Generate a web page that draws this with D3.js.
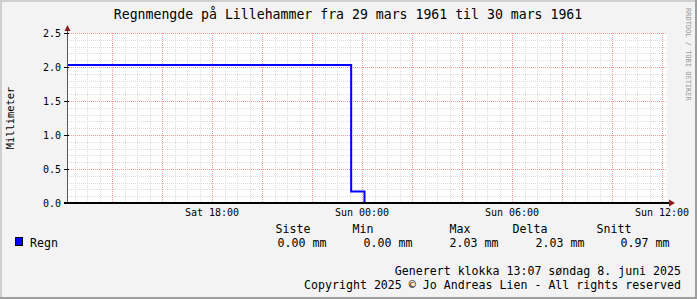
<!DOCTYPE html>
<html>
<head>
<meta charset="utf-8">
<script src="https://cdn.jsdelivr.net/npm/d3@7"></script>
<style>
  body { margin: 0; background: #fff; }
  svg { display: block; }
  text { font-family: "DejaVu Sans Mono", monospace; fill: #000; }
</style>
</head>
<body>
<div id="chart"></div>
<script>

// data (UTC times, step values)
const stepTimes = ["1961-03-25T12:12:00Z", "1961-03-25T23:34:00Z", "1961-03-26T00:06:00Z", "1961-03-26T12:12:00Z"];
const stepValues = [2.03, 0.17, 0.00, 0.00];

const legendHeaders = ["Siste", "Min", "Max", "Delta", "Snitt"];
const legendValues = ["0.00 mm", "0.00 mm", "2.03 mm", "2.03 mm", "0.97 mm"];
const seriesName = "Regn";

const yTicks = [0, 0.5, 1.0, 1.5, 2.0, 2.5];

const titleText = "Regnmengde på Lillehammer fra 29 mars 1961 til 30 mars 1961";
const footerLines = ["Generert klokka 13:07 søndag 8. juni 2025",
    "Copyright 2025 © Jo Andreas Lien - All rights reserved"];

const W = 697, H = 299;
const margin = {top: 33, left: 67, width: 600, height: 170};

const svg = d3.select("#chart").append("svg")
    .attr("width", W)
    .attr("height", H);

// canvas + 3d-ish border
svg.append("rect").attr("width", W).attr("height", H).attr("fill", "#f3f3f3");
svg.append("path").attr("d", `M0,${H} V0 H${W}`).attr("fill", "none")
    .attr("stroke", "#cfcfcf").attr("stroke-width", 4);
svg.append("path").attr("d", `M0,${H} H${W} V0`).attr("fill", "none")
    .attr("stroke", "#9e9e9e").attr("stroke-width", 4);

const times = stepTimes.map(d3.isoParse);

const x = d3.scaleUtc()
    .domain([times[0], times[times.length - 1]])
    .range([margin.left, margin.left + margin.width]);

const y = d3.scaleLinear()
    .domain([0, 2.5])
    .range([margin.top + margin.height, margin.top]);

// plot background
svg.append("rect")
    .attr("x", margin.left).attr("y", margin.top)
    .attr("width", margin.width).attr("height", margin.height)
    .attr("fill", "#fff");

const grid = svg.append("g");

// minor grid
const minorX = d3.utcMinute.every(30).range(x.domain()[0], x.domain()[1]);
grid.selectAll(".mx").data(minorX).join("line")
    .attr("x1", d => Math.round(x(d)) + 0.5).attr("x2", d => Math.round(x(d)) + 0.5)
    .attr("y1", margin.top).attr("y2", margin.top + margin.height)
    .attr("stroke", "#dcdcdc").attr("stroke-dasharray", "1,1");
const minorY = d3.range(1, 25).map(i => i / 10);
grid.selectAll(".my").data(minorY).join("line")
    .attr("x1", margin.left).attr("x2", margin.left + margin.width)
    .attr("y1", d => Math.round(y(d)) + 0.5).attr("y2", d => Math.round(y(d)) + 0.5)
    .attr("stroke", "#dcdcdc").attr("stroke-dasharray", "1,1");

// major grid
const majorX = d3.utcHour.every(2).range(x.domain()[0], x.domain()[1]);
grid.selectAll(".Mx").data(majorX).join("line")
    .attr("x1", d => Math.round(x(d)) + 0.5).attr("x2", d => Math.round(x(d)) + 0.5)
    .attr("y1", margin.top).attr("y2", margin.top + margin.height + 2)
    .attr("stroke", "#f29a9a").attr("stroke-dasharray", "1,1");
grid.selectAll(".My").data(yTicks.slice(1)).join("line")
    .attr("x1", margin.left - 2).attr("x2", margin.left + margin.width)
    .attr("y1", d => Math.round(y(d)) + 0.5).attr("y2", d => Math.round(y(d)) + 0.5)
    .attr("stroke", "#f29a9a").attr("stroke-dasharray", "1,1");

// series (step line)
const pts = stepValues.map((v, i) => ({t: times[i], v: v}));
const line = d3.line()
    .x(d => x(d.t))
    .y(d => y(d.v))
    .curve(d3.curveStepAfter);
svg.append("path")
    .datum(pts)
    .attr("d", line)
    .attr("fill", "none")
    .attr("stroke", "#0000ff")
    .attr("stroke-width", 2);

// axes (drawn over the series, like rrdtool)
const x0 = margin.left + 0.5, yb = margin.top + margin.height;
svg.append("line").attr("x1", x0).attr("x2", x0)
    .attr("y1", yb).attr("y2", margin.top - 3).attr("stroke", "#555");
svg.append("line").attr("x1", margin.left - 3).attr("x2", margin.left + margin.width + 3)
    .attr("y1", yb).attr("y2", yb).attr("stroke", "#000").attr("stroke-width", 2);
// arrows
svg.append("path")
    .attr("d", `M${x0 - 3},${margin.top - 2} L${x0 + 3},${margin.top - 2} L${x0},${margin.top - 8} Z`)
    .attr("fill", "#8b1a1a");
const xr = margin.left + margin.width + 2;
svg.append("path")
    .attr("d", `M${xr},${yb - 3.5} L${xr},${yb + 3.5} L${xr + 6},${yb} Z`)
    .attr("fill", "#8b1a1a");

// y tick labels
svg.append("g").selectAll("text").data(yTicks).join("text")
    .attr("x", margin.left - 6)
    .attr("y", d => y(d) + 3.5)
    .attr("text-anchor", "end")
    .attr("font-size", "10px")
    .text(d3.format(".1f"));
svg.append("g").selectAll("line").data(yTicks).join("line")
    .attr("x1", margin.left - 3).attr("x2", margin.left + 2)
    .attr("y1", d => Math.round(y(d)) + 0.5).attr("y2", d => Math.round(y(d)) + 0.5)
    .attr("stroke", "#000");

// x tick labels
const labelX = d3.utcHour.every(6).range(x.domain()[0], x.domain()[1]);
svg.append("g").selectAll("text").data(labelX).join("text")
    .attr("x", d => x(d))
    .attr("y", margin.top + margin.height + 13)
    .attr("text-anchor", "middle")
    .attr("font-size", "10px")
    .text(d3.utcFormat("%a %H:%M"));

// y axis title
svg.append("text")
    .attr("transform", `translate(14,${margin.top + margin.height / 2}) rotate(-90)`)
    .attr("text-anchor", "middle")
    .attr("font-size", "10.4px")
    .text("Millimeter");

// title
svg.append("text")
    .attr("x", 348).attr("y", 19)
    .attr("text-anchor", "middle")
    .attr("font-size", "13.2px")
    .text(titleText);

// watermark
svg.append("text")
    .attr("transform", "translate(686,8) rotate(90)")
    .attr("font-size", "7px")
    .style("fill", "#9a9a9a")
    .text("RRDTOOL / TOBI OETIKER");

// legend
const legX = [293, 363, 460, 530, 614];
const valX = [302, 388, 474, 560, 645];
svg.append("g").selectAll("text").data(legendHeaders).join("text")
    .attr("x", (d, i) => legX[i]).attr("y", 233)
    .attr("text-anchor", "middle")
    .attr("font-size", "11.6px")
    .text(d => d);
svg.append("g").selectAll("text").data(legendValues).join("text")
    .attr("x", (d, i) => valX[i]).attr("y", 247)
    .attr("text-anchor", "middle")
    .attr("font-size", "11.6px")
    .text(d => d);
svg.append("rect")
    .attr("x", 15.5).attr("y", 237.5).attr("width", 7).attr("height", 8)
    .attr("fill", "#0000ff").attr("stroke", "#000");
svg.append("text")
    .attr("x", 30).attr("y", 247)
    .attr("font-size", "11.6px")
    .text(seriesName);

// footer
svg.append("g").selectAll("text").data(footerLines).join("text")
    .attr("x", 681)
    .attr("y", (d, i) => 275 + i * 14)
    .attr("text-anchor", "end")
    .attr("font-size", "11.6px")
    .text(d => d);

</script>
</body>
</html>
